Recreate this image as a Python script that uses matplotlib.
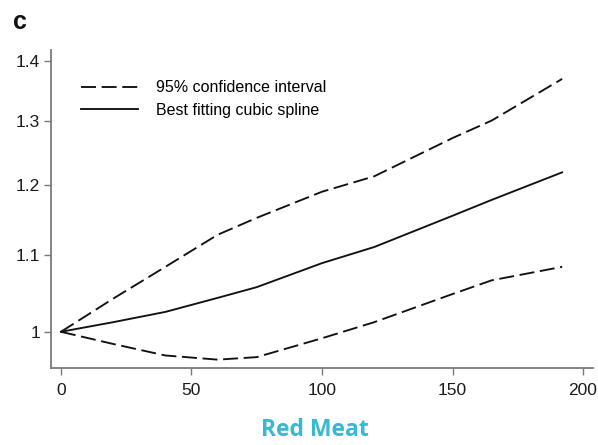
"""
Dose-response curve for red meat intake with 95% confidence band
"""

import matplotlib.pyplot as plt
from matplotlib.ticker import FixedLocator, NullLocator

# Intake (x) and relative risk read at the spline knots
intake = [0, 20, 40, 60, 75, 100, 120, 150, 165, 192]
best_fit = [1.0, 1.012, 1.025, 1.043, 1.057, 1.089, 1.111, 1.155, 1.178, 1.219]
upper_ci = [1.0, 1.042, 1.084, 1.128, 1.152, 1.190, 1.213, 1.272, 1.300, 1.369]
lower_ci = [1.0, 0.985, 0.971, 0.966, 0.969, 0.992, 1.012, 1.048, 1.066, 1.084]

xticks = [0, 50, 100, 150, 200]
yticks = [1.0, 1.1, 1.2, 1.3, 1.4]
ytick_labels = ['1', '1.1', '1.2', '1.3', '1.4']

plt.rcParams['font.family'] = ['Liberation Sans', 'DejaVu Sans']

fig = plt.figure(figsize=(5.98, 4.45), dpi=100)
ax = fig.add_axes([0.0853, 0.173, 0.9063, 0.7146])

dash = (8, 3)
ax.plot(intake, upper_ci, color='#111111', lw=1.35, dashes=dash,
        label='95% confidence interval')
ax.plot(intake, best_fit, color='#111111', lw=1.35,
        label='Best fitting cubic spline')
ax.plot(intake, lower_ci, color='#111111', lw=1.35, dashes=dash)

ax.set_yscale('log')
ax.set_xlim(-3.8, 203.8)
ax.set_ylim(0.956, 1.419)
ax.yaxis.set_major_locator(FixedLocator(yticks))
ax.yaxis.set_minor_locator(NullLocator())
ax.set_yticklabels(ytick_labels)
ax.set_xticks(xticks)

for side in ['top', 'right']:
    ax.spines[side].set_visible(False)
for side in ['left', 'bottom']:
    ax.spines[side].set_color('#7a7a7a')
    ax.spines[side].set_linewidth(1.3)
ax.tick_params(colors='#7a7a7a', width=1.0, length=5, labelsize=12.5,
               labelcolor='#1a1a1a')
ax.tick_params(axis='x', pad=6)
ax.tick_params(axis='y', pad=3)

ax.legend(loc='upper left', bbox_to_anchor=(0.028, 0.95), frameon=False,
          fontsize=11.5, handlelength=3.6, handletextpad=1.15,
          labelspacing=0.48)

fig.text(0.022, 0.951, 'c', fontsize=18, fontweight='bold', va='center',
         ha='left', color='#111111')
fig.text(0.527, 0.034, 'Red Meat', fontsize=16.5, fontweight='bold',
         family='Open Sans', color='#38b8d2', ha='center', va='center')

fig.savefig('out.png', dpi=100)
